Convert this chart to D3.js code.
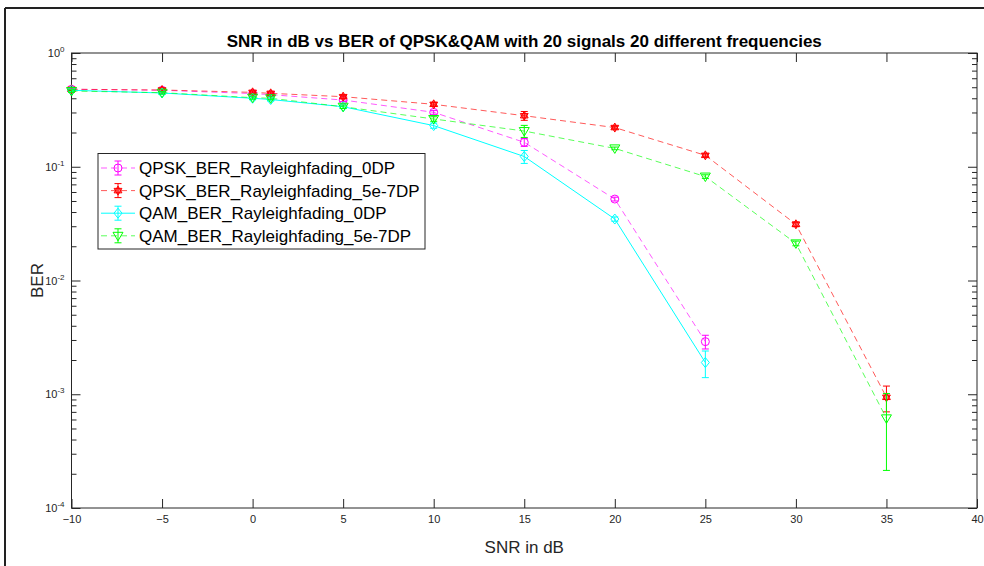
<!DOCTYPE html>
<html><head><meta charset="utf-8">
<script src="https://cdn.jsdelivr.net/npm/d3@7"></script>
<style>body{margin:0;background:#fff;} svg{display:block;font-family:Arial,"Liberation Sans",Helvetica,sans-serif;}</style>
</head><body>
<svg id="c" width="984" height="566"></svg>
<script>
// ---- data ----
const snr = [-10, -5, 0, 1, 5, 10, 15, 20, 25, 30, 35];
const qpsk0 = [0.48, 0.47, 0.44, 0.43, 0.386, 0.301, 0.164, 0.052, 0.0029];
const qpsk0Err = [0.012, 0.012, 0.012, 0.012, 0.012, 0.012, 0.013, 0.002, 0.0004];
const qpsk5 = [0.48, 0.473, 0.451, 0.442, 0.413, 0.354, 0.281, 0.221, 0.126, 0.0312, 0.00094];
const qpsk5Err = [0.012, 0.012, 0.012, 0.012, 0.012, 0.012, 0.025, 0.006, 0.004, 0.0015, 0.00024];
const qam0 = [0.47, 0.445, 0.40, 0.39, 0.337, 0.23, 0.123, 0.0347, 0.0019];
const qam0Err = [0.012, 0.012, 0.012, 0.012, 0.012, 0.012, 0.016, 0.0015, 0.0005];
const qam5 = [0.463, 0.448, 0.405, 0.40, 0.337, 0.263, 0.206, 0.145, 0.082, 0.0212, 0.000614];
const qam5Err = [0.012, 0.012, 0.012, 0.012, 0.012, 0.012, 0.025, 0.004, 0.003, 0.001, 0.0004];
const seriesNames = ["QPSK_BER_Rayleighfading_0DP", "QPSK_BER_Rayleighfading_5e-7DP", "QAM_BER_Rayleighfading_0DP", "QAM_BER_Rayleighfading_5e-7DP"];
const xTicks = [-10, -5, 0, 5, 10, 15, 20, 25, 30, 35, 40];
const yExps = [0, -1, -2, -3, -4];
const titleText = "SNR in dB vs BER of QPSK&QAM with 20 signals 20 different frequencies";
const xLabel = "SNR in dB";
const yLabel = "BER";

const series = [
  {name: seriesNames[0], v: qpsk0, e: qpsk0Err, color: "#ff00ff", dash: "6,4", marker: "circle"},
  {name: seriesNames[1], v: qpsk5, e: qpsk5Err, color: "#ff0000", dash: "6,4", marker: "hexagram"},
  {name: seriesNames[2], v: qam0, e: qam0Err, color: "#00ffff", dash: null, marker: "diamond"},
  {name: seriesNames[3], v: qam5, e: qam5Err, color: "#00ff00", dash: "6,4", marker: "triangle"}
];

const svg = d3.select("#c");
const L = 71.5, R = 977, T = 53, B = 508;
const x = d3.scaleLinear().domain([-10, 40]).range([L, R]);
const y = d3.scaleLog().domain([1e-4, 1]).range([B, T]);

// figure border (top & left)
svg.append("line").attr("x1", 5).attr("x2", 984).attr("y1", 8).attr("y2", 8).attr("stroke", "#222").attr("stroke-width", 2);
svg.append("line").attr("x1", 5).attr("x2", 5).attr("y1", 8).attr("y2", 566).attr("stroke", "#222").attr("stroke-width", 2);

// axes
const tickCol = "#262626";
const gx = svg.append("g").attr("transform", `translate(0,${B})`)
  .call(d3.axisBottom(x).tickValues(xTicks).tickSizeInner(-9).tickSizeOuter(0).tickPadding(7).tickFormat(d3.format("d")));
gx.select(".domain").remove();
gx.selectAll("line").attr("stroke", tickCol);
gx.selectAll("text").attr("font-size", 11).attr("fill", tickCol).attr("font-family", "Arial,'Liberation Sans',sans-serif");
const gxt = svg.append("g").attr("transform", `translate(0,${T})`)
  .call(d3.axisTop(x).tickValues(xTicks).tickSizeInner(-9).tickSizeOuter(0).tickFormat(""));
gxt.select(".domain").remove();
gxt.selectAll("line").attr("stroke", tickCol);

// y ticks major/minor
const minor = [];
for (let e = -4; e < 0; e++) for (let m = 2; m <= 9; m++) minor.push(m * Math.pow(10, e));
const majors = yExps.map(e => Math.pow(10, e));
function yAxis(pos, gen, vals, size) {
  const g = svg.append("g").attr("transform", `translate(${pos},0)`)
    .call(gen(y).tickValues(vals).tickSizeInner(size).tickSizeOuter(0).tickFormat(""));
  g.select(".domain").remove();
  g.selectAll("line").attr("stroke", tickCol);
}
yAxis(L, d3.axisLeft, majors, -9);
yAxis(L, d3.axisLeft, minor, -5);
yAxis(R, d3.axisRight, majors, -9);
yAxis(R, d3.axisRight, minor, -5);

// y tick labels with superscript
yExps.forEach(e => {
  const t = svg.append("text").attr("x", L - 7).attr("y", y(Math.pow(10, e)) + 4)
    .attr("text-anchor", "end").attr("font-size", 11).attr("fill", tickCol);
  t.append("tspan").text("10");
  t.append("tspan").attr("dy", -5).attr("font-size", 8).text(String(e));
});

// box
svg.append("rect").attr("x", L).attr("y", T).attr("width", R - L).attr("height", B - T)
  .attr("fill", "none").attr("stroke", tickCol).attr("stroke-width", 1);

// marker drawing
function hexPath(r) {
  let p = "";
  for (let k = 0; k < 2; k++) {
    const a0 = k === 0 ? -Math.PI / 2 : Math.PI / 2;
    const pts = [0, 1, 2].map(i => [r * Math.cos(a0 + i * 2 * Math.PI / 3), r * Math.sin(a0 + i * 2 * Math.PI / 3)]);
    p += "M" + pts.map(q => q[0].toFixed(2) + "," + q[1].toFixed(2)).join("L") + "Z";
  }
  return p;
}
function drawMarker(g, type, cx, cy, color) {
  if (type === "circle") {
    g.append("circle").attr("cx", cx).attr("cy", cy).attr("r", 4).attr("fill", "none").attr("stroke", color).attr("stroke-width", 1);
  } else if (type === "hexagram") {
    g.append("path").attr("d", hexPath(4.5)).attr("transform", `translate(${cx},${cy})`).attr("fill", color).attr("fill-opacity", 0.5).attr("stroke", color).attr("stroke-width", 1);
  } else if (type === "diamond") {
    g.append("path").attr("d", "M0,-5L4,0L0,5L-4,0Z").attr("transform", `translate(${cx},${cy})`).attr("fill", "none").attr("stroke", color).attr("stroke-width", 1);
  } else if (type === "triangle") {
    g.append("path").attr("d", "M-5,-3.5L5,-3.5L0,5Z").attr("transform", `translate(${cx},${cy})`).attr("fill", "none").attr("stroke", color).attr("stroke-width", 1);
  }
}
function errBar(g, cx, y1, y2, color) {
  g.append("line").attr("x1", cx).attr("x2", cx).attr("y1", y1).attr("y2", y2).attr("stroke", color).attr("stroke-width", 1);
  g.append("line").attr("x1", cx - 3.5).attr("x2", cx + 3.5).attr("y1", y1).attr("y2", y1).attr("stroke", color).attr("stroke-width", 1);
  g.append("line").attr("x1", cx - 3.5).attr("x2", cx + 3.5).attr("y1", y2).attr("y2", y2).attr("stroke", color).attr("stroke-width", 1);
}

const plot = svg.append("g");
series.forEach(s => {
  const g = plot.append("g");
  const pts = s.v.map((v, i) => [snr[i], v, s.e[i]]);
  const line = d3.line().x(d => x(d[0])).y(d => y(d[1]));
  const p = g.append("path").attr("d", line(pts)).attr("fill", "none").attr("stroke", s.color).attr("stroke-width", 1);
  if (s.dash) p.attr("stroke-dasharray", s.dash).attr("stroke-opacity", 0.65);
  pts.forEach(d => {
    errBar(g, x(d[0]), y(d[1] + d[2]), y(Math.max(d[1] - d[2], 1e-5)), s.color);
    drawMarker(g, s.marker, x(d[0]), y(d[1]), s.color);
  });
});

// title & labels
svg.append("text").attr("x", (L + R) / 2).attr("y", 47).attr("text-anchor", "middle")
  .attr("font-size", 17).attr("font-weight", "bold").attr("fill", "#000").text(titleText);
svg.append("text").attr("x", (L + R) / 2).attr("y", 553).attr("text-anchor", "middle")
  .attr("font-size", 17).attr("fill", tickCol).text(xLabel);
svg.append("text").attr("transform", `translate(43,${(T + B) / 2}) rotate(-90)`).attr("text-anchor", "middle")
  .attr("font-size", 17).attr("fill", tickCol).text(yLabel);

// legend
const lg = svg.append("g");
lg.append("rect").attr("x", 98).attr("y", 153.5).attr("width", 327).attr("height", 95.5)
  .attr("fill", "#fff").attr("stroke", tickCol).attr("stroke-width", 1);
series.forEach((s, i) => {
  const cy = 168 + i * 22.6;
  const ln = lg.append("line").attr("x1", 101).attr("x2", 135).attr("y1", cy).attr("y2", cy)
    .attr("stroke", s.color).attr("stroke-width", 1);
  if (s.dash) ln.attr("stroke-dasharray", "6,4").attr("stroke-opacity", 0.65);
  errBar(lg, 118, cy - 7, cy + 7, s.color);
  drawMarker(lg, s.marker, 118, cy, s.color);
  lg.append("text").attr("x", 139).attr("y", cy + 6).attr("font-size", 17).attr("fill", "#000").text(s.name);
});
</script>
</body></html>
